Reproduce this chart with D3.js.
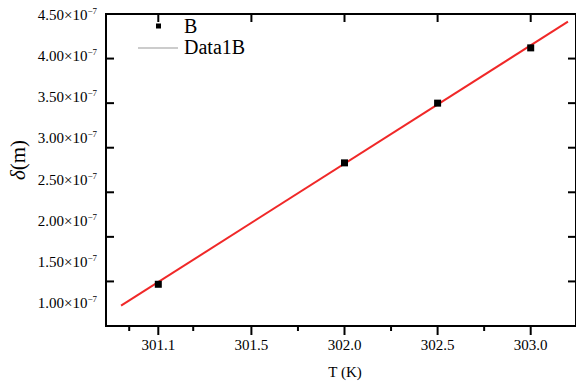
<!DOCTYPE html>
<html>
<head>
<meta charset="utf-8">
<script src="https://cdn.jsdelivr.net/npm/d3@7"></script>
<style>
  body { margin: 0; background: #fff; }
  svg { display: block; }
  svg text { font-family: "Liberation Serif", "Times New Roman", Tinos, "DejaVu Serif", serif; }
</style>
</head>
<body>
<div id="chart"></div>
<script>
// data
const pointT = [301.1, 302.0, 302.5, 303.0];
const pointDelta = [1.468e-7, 2.83e-7, 3.50e-7, 4.12e-7];
const fitT = [300.94, 303.2];
const fitDelta = [1.228e-7, 4.414e-7];
const xTicks = [301.1, 301.5, 302.0, 302.5, 303.0];
const xTickLabels = ["301.1", "301.5", "302.0", "302.5", "303.0"];
const xMinorTicks = [300.975, 301.25, 301.75, 302.25, 302.75];
const yTicks = [1.0e-7, 1.5e-7, 2.0e-7, 2.5e-7, 3.0e-7, 3.5e-7, 4.0e-7, 4.5e-7];
const yTickLabels = ["1.00", "1.50", "2.00", "2.50", "3.00", "3.50", "4.00", "4.50"];

const width = 576, height = 385;
const plotLeft = 106, plotRight = 576, plotTop = 14, plotBottom = 326;
const serif = '"Liberation Serif", "Times New Roman", serif';

const svg = d3.select("#chart").append("svg")
    .attr("width", width).attr("height", height)
    .attr("font-family", serif);

// x ticks are evenly spaced on the page even though the first label is 301.1
const step = 93.1;
const x0 = 158.3;
const x = d3.scaleLinear()
    .domain(xTicks)
    .range(xTicks.map((d, i) => x0 + i * step));
const y = d3.scaleLinear().domain([1.0e-7, 4.5e-7]).range([plotBottom, plotTop]);
// tick labels in the original sit slightly off their ticks
const yLabel = d3.scaleLinear().domain([1.0e-7, 4.5e-7]).range([303, 15]);

// fit line
const line = d3.line().x(d => x(d[0])).y(d => y(d[1]));
svg.append("path")
    .datum(fitT.map((t, i) => [t, fitDelta[i]]))
    .attr("d", line)
    .attr("fill", "none")
    .attr("stroke", "#f02828")
    .attr("stroke-width", 2);

// points
svg.selectAll("rect.pt")
    .data(pointT.map((t, i) => [t, pointDelta[i]]))
    .enter().append("rect")
    .attr("class", "pt")
    .attr("x", d => x(d[0]) - 3.5)
    .attr("y", d => y(d[1]) - 3.5)
    .attr("width", 7).attr("height", 7)
    .attr("fill", "#000");

// frame
const axisColor = "#000";
svg.append("path")
    .attr("d", `M${plotLeft},${plotTop}H${plotRight + 1}M${plotLeft},${plotTop - 1}V${plotBottom}H${plotRight + 1}M${plotRight},${plotTop}V${plotBottom}`)
    .attr("fill", "none").attr("stroke", axisColor).attr("stroke-width", 2);

// bottom axis (outward ticks)
const xAxis = svg.append("g").attr("transform", `translate(0,${plotBottom})`);
xAxis.selectAll("line.major").data(xTicks).enter().append("line")
    .attr("class", "major")
    .attr("x1", d => x(d)).attr("x2", d => x(d))
    .attr("y1", 0).attr("y2", 9)
    .attr("stroke", axisColor).attr("stroke-width", 2);
xAxis.selectAll("line.minor").data(xMinorTicks).enter().append("line")
    .attr("class", "minor")
    .attr("x1", d => x(d)).attr("x2", d => x(d))
    .attr("y1", 0).attr("y2", 5)
    .attr("stroke", axisColor).attr("stroke-width", 2);
xAxis.selectAll("text").data(xTicks).enter().append("text")
    .attr("x", d => x(d)).attr("y", 24)
    .attr("text-anchor", "middle")
    .attr("font-size", 15)
    .text((d, i) => xTickLabels[i]);

// top ticks (inward)
svg.append("g").selectAll("line").data(xTicks).enter().append("line")
    .attr("x1", d => x(d)).attr("x2", d => x(d))
    .attr("y1", plotTop).attr("y2", plotTop + 8)
    .attr("stroke", axisColor).attr("stroke-width", 2);

// left & right ticks (inward)
svg.append("g").selectAll("line").data(yTicks).enter().append("line")
    .attr("x1", plotLeft).attr("x2", plotLeft + 8)
    .attr("y1", d => y(d)).attr("y2", d => y(d))
    .attr("stroke", axisColor).attr("stroke-width", 2);
svg.append("g").selectAll("line").data(yTicks).enter().append("line")
    .attr("x1", plotRight - 8).attr("x2", plotRight)
    .attr("y1", d => y(d)).attr("y2", d => y(d))
    .attr("stroke", axisColor).attr("stroke-width", 2);

// y tick labels with superscript exponent
const yl = svg.append("g").selectAll("text").data(yTicks).enter().append("text")
    .attr("x", 97).attr("y", d => yLabel(d) + 5)
    .attr("text-anchor", "end")
    .attr("font-size", 15);
yl.append("tspan").text((d, i) => yTickLabels[i] + "\u00d710");
yl.append("tspan").attr("font-size", 9).attr("dy", -6).text("\u22127");

// axis titles
svg.append("text")
    .attr("x", 345).attr("y", 377)
    .attr("text-anchor", "middle")
    .attr("font-size", 15)
    .text("T (K)");
svg.append("text")
    .attr("transform", "translate(25,160) rotate(-90)")
    .attr("text-anchor", "middle")
    .attr("font-size", 21)
    .html('<tspan font-style="italic">δ</tspan>(m)');

// legend
svg.append("rect")
    .attr("x", 156).attr("y", 23.5).attr("width", 5).attr("height", 5)
    .attr("fill", "#000");
svg.append("text")
    .attr("x", 184).attr("y", 33)
    .attr("font-size", 20)
    .text("B");
svg.append("line")
    .attr("x1", 138).attr("x2", 178)
    .attr("y1", 48).attr("y2", 48)
    .attr("stroke", "#999").attr("stroke-width", 1.2);
svg.append("text")
    .attr("x", 184).attr("y", 54)
    .attr("font-size", 20)
    .text("Data1B");
</script>
</body>
</html>
